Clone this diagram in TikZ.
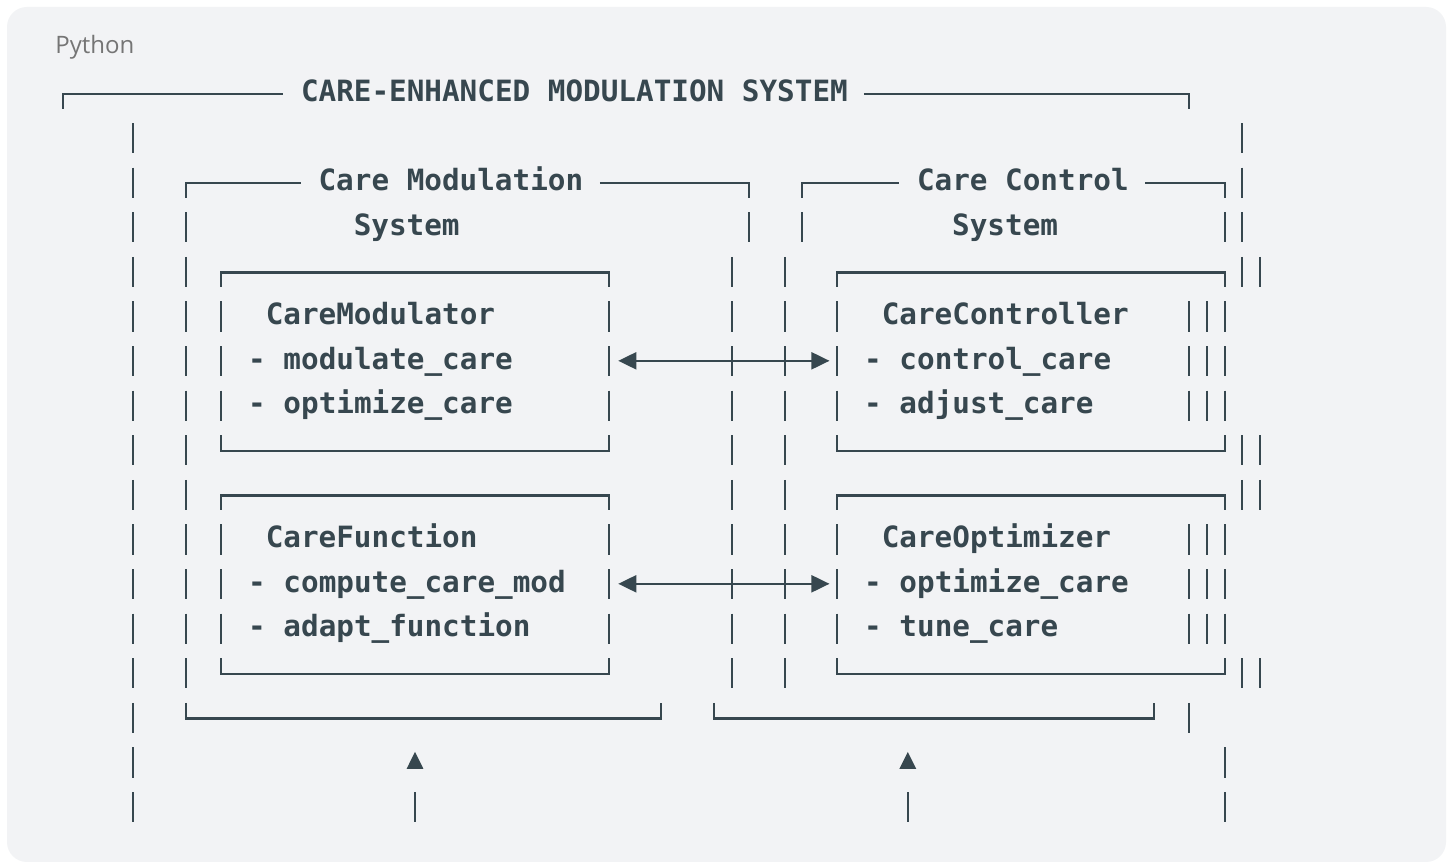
\documentclass[tikz,border=0pt]{standalone}
\usepackage{fontspec}
\setmainfont{Open Sans}
\newfontfamily\codefont{DejaVu Sans Mono}
\usepackage{tikz}
\usetikzlibrary{arrows.meta}
\definecolor{ink}{HTML}{37474F}
\definecolor{panel}{HTML}{F2F3F5}
\definecolor{lang}{HTML}{757575}
\tikzset{
  rule/.style={ink,line width=1.05pt},
  code/.style={ink,font=\codefont\bfseries\fontsize{14.65}{17}\selectfont,inner sep=0pt,anchor=base west},
  twotip/.style={{Triangle[length=9pt,width=8.5pt]}-{Triangle[length=9pt,width=8.5pt]}}
}
% one glyph-high bar in column #1, row #2
\newcommand{\vbar}[2]{\draw[rule] (#1,#2) -- ++(0,0.673);}
% class box: name, left col, right col, top row, title, two methods
\newcommand{\classbox}[7]{%
  \draw[rule] (#2,#4+0.673) -- (#2,#4+0.35) -- (#3,#4+0.35) -- (#3,#4+0.673);
  \foreach \r in {1,2,3} {\vbar{#2}{#4+\r} \vbar{#3}{#4+\r}}
  \draw[rule] (#2,#4+4) -- (#2,#4+4.35) -- (#3,#4+4.35) -- (#3,#4+4);
  \node[code] (#1-t) at (#2+2.5,#4+1.515) {#5};
  \node[code] (#1-a) at (#2+1.5,#4+2.515) {#6};
  \node[code] (#1-b) at (#2+1.5,#4+3.515) {#7};
  \coordinate (#1-w) at (#2-0.45,#4+2.33);
  \coordinate (#1-e) at (#3+0.55,#4+2.33);}

\begin{document}
\begin{tikzpicture}[x=0.5pt,y=-0.5pt]
  \useasboundingbox (0,0) rectangle (1453,865);
  \fill[white] (0,0) rectangle (1453,865);
  \fill[panel,rounded corners=10pt] (7,7) rectangle (1446,862);
  \node[lang,font=\fontsize{12}{14}\selectfont,inner sep=0pt,anchor=base west] (lang) at (55,54) {Python};
  \begin{scope}[shift={(63,78.5)},x=8.8pt,y=-22.3pt]
    % outer frame
    \draw[rule] (0,0.673) -- (0,0.35) -- (12.5,0.35);
    \draw[rule] (45.5,0.35) -- (64,0.35) -- (64,0.673);
    \node[code] (title) at (13.5,0.515) {CARE-ENHANCED MODULATION SYSTEM};
    \foreach \r in {1,...,16} \vbar{4}{\r};
    \foreach \r in {1,2,3} \vbar{67}{\r};
    \foreach \r in {4,8,9,13} {\vbar{67}{\r} \vbar{68}{\r}}
    \foreach \r in {5,6,7,10,11,12} {\vbar{64}{\r} \vbar{65}{\r}}
    \vbar{64}{14} \vbar{66}{15} \vbar{66}{16}
    % care modulation system
    \draw[rule] (7,2.673) -- (7,2.35) -- (13.5,2.35);
    \draw[rule] (30.5,2.35) -- (39,2.35) -- (39,2.673);
    \node[code] (modsys) at (14.5,2.515) {Care Modulation};
    \node[code] (modsys2) at (16.5,3.515) {System};
    \vbar{39}{3}
    \foreach \r in {3,...,13} \vbar{7}{\r};
    \foreach \r in {4,...,13} \vbar{38}{\r};
    \draw[rule] (7,14) -- (7,14.35) -- (34,14.35) -- (34,14);
    % care control system
    \draw[rule] (42,2.673) -- (42,2.35) -- (47.5,2.35);
    \draw[rule] (61.5,2.35) -- (66,2.35) -- (66,2.673);
    \node[code] (ctlsys) at (48.5,2.515) {Care Control};
    \node[code] (ctlsys2) at (50.5,3.515) {System};
    \vbar{42}{3} \vbar{66}{3}
    \foreach \r in {4,...,13} \vbar{41}{\r};
    \draw[rule] (37,14) -- (37,14.35) -- (62,14.35) -- (62,14);
    % classes
    \classbox{mod}{9}{31}{4}{CareModulator}{- modulate\_care}{- optimize\_care}
    \classbox{fun}{9}{31}{9}{CareFunction}{- compute\_care\_mod}{- adapt\_function}
    \classbox{ctl}{44}{66}{4}{CareController}{- control\_care}{- adjust\_care}
    \classbox{opt}{44}{66}{9}{CareOptimizer}{- optimize\_care}{- tune\_care}
    \draw[rule,twotip] (mod-e) -- (ctl-w);
    \draw[rule,twotip] (fun-e) -- (opt-w);
    % inputs from below
    \foreach \c in {20,48} {
      \fill[ink] (\c-0.48,15.48) -- (\c+0.48,15.48) -- (\c,15.1) -- cycle;
      \vbar{\c}{16}}
  \end{scope}
\end{tikzpicture}
\end{document}
